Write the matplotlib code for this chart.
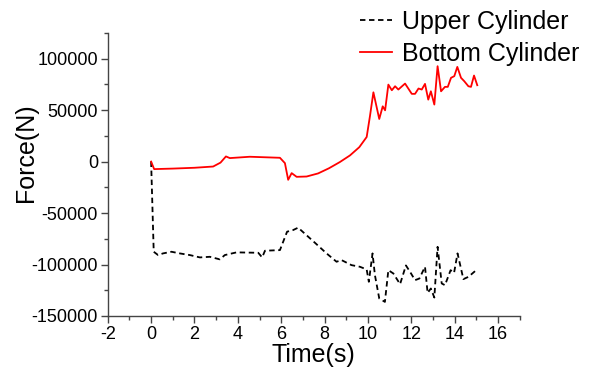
import matplotlib
matplotlib.use("Agg")
import matplotlib.pyplot as plt
from matplotlib.ticker import MultipleLocator

plt.rcParams['font.family'] = ['Liberation Sans', 'DejaVu Sans']
plt.rcParams['axes.unicode_minus'] = False

# Bottom Cylinder (red)
t_bottom = [0.0, 0.14, 1.0, 2.0, 2.86, 3.2, 3.45, 3.63, 4.55, 5.94, 6.17, 6.32, 6.48, 6.71,
            7.17, 7.7, 8.2, 8.7, 9.17, 9.6, 9.94, 10.09, 10.25, 10.52, 10.68, 10.79, 10.94,
            11.1, 11.25, 11.4, 11.71, 12.02, 12.17, 12.33, 12.48, 12.63, 12.78, 12.9, 13.06,
            13.21, 13.37, 13.55, 13.68, 13.83, 13.98, 14.12, 14.29, 14.44, 14.63, 14.75,
            14.89, 15.04]
f_bottom = [0, -7300, -6800, -6000, -4800, -1000, 5000, 3400, 4700, 3700, -1500, -17700,
            -11200, -14800, -14500, -11500, -6500, -500, 6000, 14000, 23900, 44000, 67300,
            41400, 53700, 49800, 74800, 69300, 73200, 70000, 75800, 65800, 65800, 71000,
            70000, 75500, 60200, 68300, 55400, 92700, 68300, 72600, 72600, 81400, 83000,
            92000, 81400, 78100, 73200, 72600, 83600, 74200]

# Upper Cylinder (black dashed)
t_upper = [0.0, 0.12, 0.32, 0.55, 0.94, 1.32, 1.78, 2.25, 2.71, 3.17, 3.4, 3.94, 4.94, 5.12,
           5.25, 5.94, 6.27, 6.55, 6.78, 7.55, 8.09, 8.55, 8.78, 9.24, 9.63, 9.94, 10.04,
           10.21, 10.32, 10.52, 10.78, 10.94, 11.17, 11.48, 11.75, 11.94, 12.17, 12.37,
           12.63, 12.75, 12.9, 13.06, 13.21, 13.4, 13.55, 13.81, 13.97, 14.13, 14.4, 14.63,
           14.94]
f_upper = [0, -87600, -90800, -89200, -87600, -89200, -90800, -93100, -92500, -95000, -90800,
           -88200, -88600, -93100, -86600, -86000, -68100, -66500, -64200, -78800, -89200,
           -97300, -95700, -100600, -102200, -104800, -116800, -89200, -110300, -133000,
           -136300, -105500, -108700, -119100, -100900, -107100, -115200, -113600, -102200,
           -127600, -123300, -132100, -82800, -118400, -120100, -105500, -108100, -89200,
           -114200, -112000, -106400]

x_ticks = [-2, 0, 2, 4, 6, 8, 10, 12, 14, 16]
y_ticks = [-150000, -100000, -50000, 0, 50000, 100000]

fig = plt.figure(figsize=(5.92, 3.70), dpi=100)
ax = fig.add_axes([0.182, 0.146, 0.878 - 0.182, 0.911 - 0.146])

l_up, = ax.plot(t_upper, f_upper, color='black', linestyle=(0, (3, 2)), linewidth=1.3,
                label='Upper Cylinder')
l_bot, = ax.plot(t_bottom, f_bottom, color='red', linewidth=1.3, label='Bottom Cylinder')

ax.set_xlim(-2, 17)
ax.set_ylim(-150000, 125000)
ax.set_xticks(x_ticks)
ax.set_yticks(y_ticks)
ax.xaxis.set_minor_locator(MultipleLocator(1))
ax.yaxis.set_minor_locator(MultipleLocator(25000))
ax.spines['top'].set_visible(False)
ax.spines['right'].set_visible(False)
for s in ('left', 'bottom'):
    ax.spines[s].set_color('#444444')
    ax.spines[s].set_linewidth(1.0)
ax.tick_params(axis='both', which='major', direction='out', length=5, width=1,
               color='#444444', labelsize=13, pad=2)
ax.tick_params(axis='both', which='minor', direction='out', length=3, width=1,
               color='#444444')

ax.set_xlabel('Time(s)', fontsize=18, labelpad=0)
ax.set_ylabel('Force(N)', fontsize=18)
ax.yaxis.set_label_coords(-0.17, 0.576)

fig.legend(handles=[l_up, l_bot], loc='upper left', bbox_to_anchor=(0.591, 1.0),
           frameon=False, fontsize=18, handlelength=1.28, handletextpad=0.4,
           labelspacing=0.3, borderaxespad=0)

fig.savefig('out.png', dpi=100)
